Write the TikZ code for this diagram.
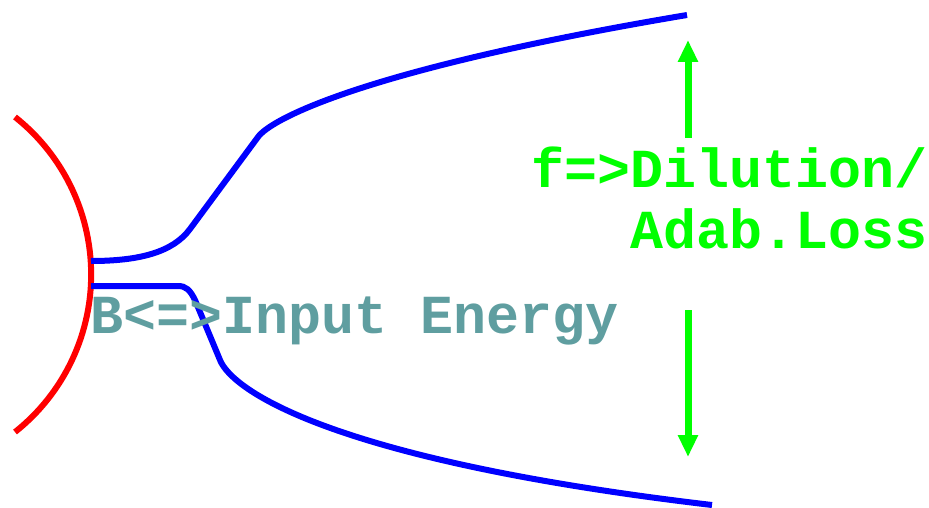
\documentclass[tikz,border=0pt]{standalone}
\usepackage{fontspec}
\setmonofont{Liberation Mono}
\usetikzlibrary{arrows.meta}
\definecolor{pureblue}{RGB}{0,0,255}
\definecolor{purered}{RGB}{255,0,0}
\definecolor{puregreen}{RGB}{0,255,0}
\definecolor{tealtext}{RGB}{95,158,160}
\tikzset{
  redline/.style={draw=purered, line width=6pt},
  blueline/.style={draw=pureblue, line width=6pt},
  garrow/.style={draw=puregreen, line width=7pt, -{Triangle[width=19pt,length=22pt]}},
  bigtext/.style={inner sep=0pt, font=\fontsize{55}{61}\selectfont\ttfamily\bfseries},
}
\begin{document}
\begin{tikzpicture}[x=1pt,y=-1pt]
\useasboundingbox (0,0) rectangle (929,508);
% red arc
\coordinate (arcTop) at (15,117);
\draw[redline] (arcTop) arc[start angle=-51.6, end angle=51.6, radius=201];
% blue curves
\coordinate (uStart) at (91,261);
\coordinate (uEnd) at (687,15);
\coordinate (lStart) at (91,286);
\coordinate (lEnd) at (712,505);
\draw[blueline] (uStart) .. controls (140,261) and (173,252) .. (190,229)
  -- (258,137) .. controls (270,120) and (360,70) .. (uEnd);
\draw[blueline] (lStart) -- (178,286) .. controls (186,286) and (190,290) .. (195,300)
  -- (220,360) .. controls (232,390) and (330,460) .. (lEnd);
% green arrows
\coordinate (upS) at (688,138);
\coordinate (upT) at (688,40);
\coordinate (dnS) at (688,310);
\coordinate (dnT) at (688,457);
\draw[garrow] (upS) -- (upT);
\draw[garrow] (dnS) -- (dnT);
% texts
\node[bigtext, text=puregreen, anchor=base east] (fline) at (928,187) {f=>Dilution/};
\node[bigtext, text=puregreen, anchor=base east] (aline) at (928,248) {Adab.Loss};
\node[bigtext, text=tealtext, anchor=base west] (bline) at (90,333) {B<=>Input Energy};
\end{tikzpicture}
\end{document}
